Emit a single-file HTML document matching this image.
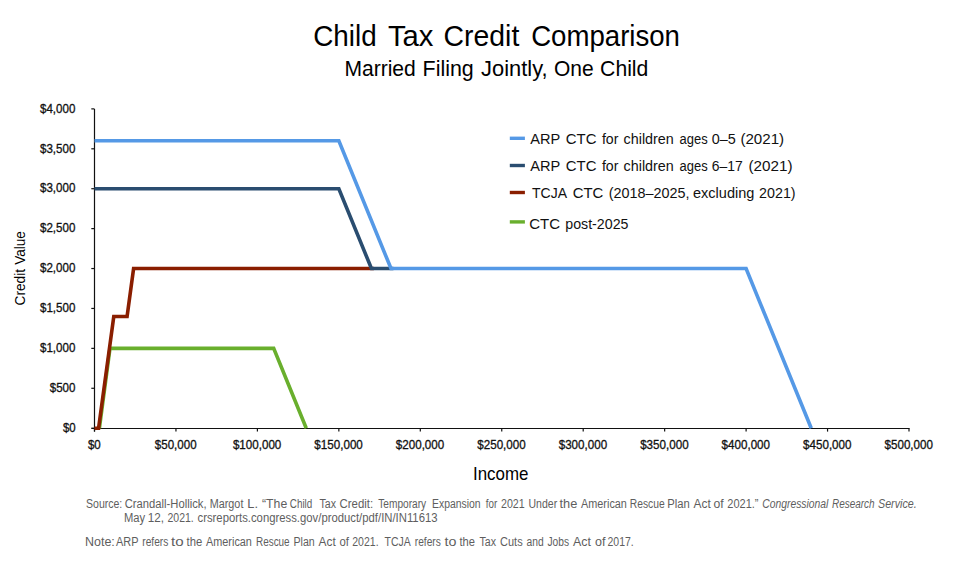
<!DOCTYPE html><html><head><meta charset="utf-8"><style>html,body{margin:0;padding:0;background:#fff;width:960px;height:562px;overflow:hidden}svg{display:block}text{font-family:"Liberation Sans",sans-serif}</style></head><body>
<svg width="960" height="562" viewBox="0 0 960 562">
<rect width="960" height="562" fill="#fff"/>
<g stroke="#111" stroke-width="1.2" fill="none">
<line x1="94.5" y1="108.9" x2="94.5" y2="431.6"/>
<line x1="91.5" y1="428.5" x2="909.6" y2="428.5"/>
<line x1="91.3" y1="428.20" x2="94.5" y2="428.20"/>
<line x1="91.3" y1="388.28" x2="94.5" y2="388.28"/>
<line x1="91.3" y1="348.37" x2="94.5" y2="348.37"/>
<line x1="91.3" y1="308.45" x2="94.5" y2="308.45"/>
<line x1="91.3" y1="268.54" x2="94.5" y2="268.54"/>
<line x1="91.3" y1="228.62" x2="94.5" y2="228.62"/>
<line x1="91.3" y1="188.71" x2="94.5" y2="188.71"/>
<line x1="91.3" y1="148.80" x2="94.5" y2="148.80"/>
<line x1="91.3" y1="108.88" x2="94.5" y2="108.88"/>
<line x1="94.50" y1="428.5" x2="94.50" y2="431.6"/>
<line x1="175.95" y1="428.5" x2="175.95" y2="431.6"/>
<line x1="257.40" y1="428.5" x2="257.40" y2="431.6"/>
<line x1="338.85" y1="428.5" x2="338.85" y2="431.6"/>
<line x1="420.30" y1="428.5" x2="420.30" y2="431.6"/>
<line x1="501.75" y1="428.5" x2="501.75" y2="431.6"/>
<line x1="583.20" y1="428.5" x2="583.20" y2="431.6"/>
<line x1="664.65" y1="428.5" x2="664.65" y2="431.6"/>
<line x1="746.10" y1="428.5" x2="746.10" y2="431.6"/>
<line x1="827.55" y1="428.5" x2="827.55" y2="431.6"/>
<line x1="909.00" y1="428.5" x2="909.00" y2="431.6"/>
</g>
<g fill="none" stroke-width="3.6" stroke-linejoin="miter" stroke-linecap="butt">
<polyline points="99.39,428.20 109.98,348.37 273.69,348.37 306.27,428.20" stroke="#69AF2D"/>
<polyline points="94.50,428.20 98.57,428.20 113.78,316.44 127.08,316.44 133.60,268.54 373.87,268.54" stroke="#8A1E00"/>
<polyline points="94.50,188.71 338.85,188.71 371.43,268.54 393.42,268.54" stroke="#2A4D70"/>
<polyline points="94.50,140.81 338.85,140.81 390.98,268.54 746.10,268.54 811.26,428.20" stroke="#5599E6"/>
</g>
<line x1="509.8" y1="138.3" x2="524.9" y2="138.3" stroke="#5599E6" stroke-width="3.4"/>
<line x1="509.8" y1="165.5" x2="524.9" y2="165.5" stroke="#2A4D70" stroke-width="3.4"/>
<line x1="509.8" y1="192.5" x2="524.9" y2="192.5" stroke="#8A1E00" stroke-width="3.4"/>
<line x1="509.8" y1="221.9" x2="524.9" y2="221.9" stroke="#69AF2D" stroke-width="3.4"/>
<text x="313.20" y="45.7" font-size="29.5" fill="#000" textLength="63.44" lengthAdjust="spacingAndGlyphs">Child</text>
<text x="387.90" y="45.7" font-size="29.5" fill="#000" textLength="45.49" lengthAdjust="spacingAndGlyphs">Tax</text>
<text x="443.60" y="45.7" font-size="29.5" fill="#000" textLength="75.73" lengthAdjust="spacingAndGlyphs">Credit</text>
<text x="531.20" y="45.7" font-size="29.5" fill="#000" textLength="148.79" lengthAdjust="spacingAndGlyphs">Comparison</text>
<text x="344.40" y="75.6" font-size="21.4" fill="#000" textLength="71.36" lengthAdjust="spacingAndGlyphs">Married</text>
<text x="422.60" y="75.6" font-size="21.4" fill="#000" textLength="51.17" lengthAdjust="spacingAndGlyphs">Filing</text>
<text x="481.10" y="75.6" font-size="21.4" fill="#000" textLength="66.49" lengthAdjust="spacingAndGlyphs">Jointly,</text>
<text x="554.00" y="75.6" font-size="21.4" fill="#000" textLength="39.70" lengthAdjust="spacingAndGlyphs">One</text>
<text x="600.10" y="75.6" font-size="21.4" fill="#000" textLength="48.26" lengthAdjust="spacingAndGlyphs">Child</text>
<text x="530.30" y="144.0" font-size="15.5" fill="#111" textLength="29.97" lengthAdjust="spacingAndGlyphs">ARP</text>
<text x="565.80" y="144.0" font-size="15.5" fill="#111" textLength="30.65" lengthAdjust="spacingAndGlyphs">CTC</text>
<text x="601.90" y="144.0" font-size="15.5" fill="#111" textLength="16.51" lengthAdjust="spacingAndGlyphs">for</text>
<text x="623.60" y="144.0" font-size="15.5" fill="#111" textLength="50.19" lengthAdjust="spacingAndGlyphs">children</text>
<text x="679.50" y="144.0" font-size="15.5" fill="#111" textLength="28.15" lengthAdjust="spacingAndGlyphs">ages</text>
<text x="711.80" y="144.0" font-size="15.5" fill="#111" textLength="24.06" lengthAdjust="spacingAndGlyphs">0–5</text>
<text x="740.40" y="144.0" font-size="15.5" fill="#111" textLength="43.73" lengthAdjust="spacingAndGlyphs">(2021)</text>
<text x="530.30" y="171.0" font-size="15.5" fill="#111" textLength="29.97" lengthAdjust="spacingAndGlyphs">ARP</text>
<text x="565.80" y="171.0" font-size="15.5" fill="#111" textLength="30.65" lengthAdjust="spacingAndGlyphs">CTC</text>
<text x="601.90" y="171.0" font-size="15.5" fill="#111" textLength="16.51" lengthAdjust="spacingAndGlyphs">for</text>
<text x="623.60" y="171.0" font-size="15.5" fill="#111" textLength="50.19" lengthAdjust="spacingAndGlyphs">children</text>
<text x="679.50" y="171.0" font-size="15.5" fill="#111" textLength="28.15" lengthAdjust="spacingAndGlyphs">ages</text>
<text x="711.80" y="171.0" font-size="15.5" fill="#111" textLength="31.01" lengthAdjust="spacingAndGlyphs">6–17</text>
<text x="748.40" y="171.0" font-size="15.5" fill="#111" textLength="44.07" lengthAdjust="spacingAndGlyphs">(2021)</text>
<text x="532.00" y="198.4" font-size="15.5" fill="#111" textLength="35.00" lengthAdjust="spacingAndGlyphs">TCJA</text>
<text x="572.70" y="198.4" font-size="15.5" fill="#111" textLength="30.62" lengthAdjust="spacingAndGlyphs">CTC</text>
<text x="608.80" y="198.4" font-size="15.5" fill="#111" textLength="80.77" lengthAdjust="spacingAndGlyphs">(2018–2025,</text>
<text x="693.00" y="198.4" font-size="15.5" fill="#111" textLength="61.34" lengthAdjust="spacingAndGlyphs">excluding</text>
<text x="759.10" y="198.4" font-size="15.5" fill="#111" textLength="36.47" lengthAdjust="spacingAndGlyphs">2021)</text>
<text x="529.25" y="228.6" font-size="15.5" fill="#111" textLength="30.76" lengthAdjust="spacingAndGlyphs">CTC</text>
<text x="565.25" y="228.6" font-size="15.5" fill="#111" textLength="63.19" lengthAdjust="spacingAndGlyphs">post-2025</text>
<text x="473.00" y="479.7" font-size="19" fill="#000" textLength="55.42" lengthAdjust="spacingAndGlyphs">Income</text>
<text transform="translate(24.6,264.80) rotate(-90)" x="0" y="0" font-size="14.5" fill="#000" textLength="33.73" lengthAdjust="spacingAndGlyphs">Value</text>
<text transform="translate(24.6,305.50) rotate(-90)" x="0" y="0" font-size="14.5" fill="#000" textLength="36.54" lengthAdjust="spacingAndGlyphs">Credit</text>
<text x="86.00" y="507.8" font-size="12" fill="#5e5e5e" textLength="36.30" lengthAdjust="spacingAndGlyphs">Source:</text>
<text x="124.75" y="507.8" font-size="12" fill="#5e5e5e" textLength="81.84" lengthAdjust="spacingAndGlyphs">Crandall-Hollick,</text>
<text x="209.75" y="507.8" font-size="12" fill="#5e5e5e" textLength="33.64" lengthAdjust="spacingAndGlyphs">Margot</text>
<text x="247.25" y="507.8" font-size="12" fill="#5e5e5e" textLength="10.70" lengthAdjust="spacingAndGlyphs">L.</text>
<text x="262.00" y="507.8" font-size="12" fill="#5e5e5e" textLength="25.21" lengthAdjust="spacingAndGlyphs">“The</text>
<text x="289.75" y="507.8" font-size="12" fill="#5e5e5e" textLength="22.52" lengthAdjust="spacingAndGlyphs">Child</text>
<text x="319.50" y="507.8" font-size="12" fill="#5e5e5e" textLength="16.52" lengthAdjust="spacingAndGlyphs">Tax</text>
<text x="339.50" y="507.8" font-size="12" fill="#5e5e5e" textLength="33.63" lengthAdjust="spacingAndGlyphs">Credit:</text>
<text x="378.25" y="507.8" font-size="12" fill="#5e5e5e" textLength="47.89" lengthAdjust="spacingAndGlyphs">Temporary</text>
<text x="432.00" y="507.8" font-size="12" fill="#5e5e5e" textLength="48.62" lengthAdjust="spacingAndGlyphs">Expansion</text>
<text x="485.75" y="507.8" font-size="12" fill="#5e5e5e" textLength="11.45" lengthAdjust="spacingAndGlyphs">for</text>
<text x="501.00" y="507.8" font-size="12" fill="#5e5e5e" textLength="23.75" lengthAdjust="spacingAndGlyphs">2021</text>
<text x="528.50" y="507.8" font-size="12" fill="#5e5e5e" textLength="28.63" lengthAdjust="spacingAndGlyphs">Under</text>
<text x="559.50" y="507.8" font-size="12" fill="#5e5e5e" textLength="17.79" lengthAdjust="spacingAndGlyphs">the</text>
<text x="581.00" y="507.8" font-size="12" fill="#5e5e5e" textLength="45.90" lengthAdjust="spacingAndGlyphs">American</text>
<text x="629.75" y="507.8" font-size="12" fill="#5e5e5e" textLength="34.92" lengthAdjust="spacingAndGlyphs">Rescue</text>
<text x="667.25" y="507.8" font-size="12" fill="#5e5e5e" textLength="22.53" lengthAdjust="spacingAndGlyphs">Plan</text>
<text x="693.50" y="507.8" font-size="12" fill="#5e5e5e" textLength="17.19" lengthAdjust="spacingAndGlyphs">Act</text>
<text x="713.50" y="507.8" font-size="12" fill="#5e5e5e" textLength="10.18" lengthAdjust="spacingAndGlyphs">of</text>
<text x="727.25" y="507.8" font-size="12" fill="#5e5e5e" textLength="31.24" lengthAdjust="spacingAndGlyphs">2021.”</text>
<text x="762.25" y="507.8" font-size="12" fill="#5e5e5e" font-style="italic" textLength="66.11" lengthAdjust="spacingAndGlyphs">Congressional</text>
<text x="832.00" y="507.8" font-size="12" fill="#5e5e5e" font-style="italic" textLength="42.65" lengthAdjust="spacingAndGlyphs">Research</text>
<text x="878.00" y="507.8" font-size="12" fill="#5e5e5e" font-style="italic" textLength="38.70" lengthAdjust="spacingAndGlyphs">Service.</text>
<text x="124.00" y="521.6" font-size="12" fill="#5e5e5e" textLength="21.15" lengthAdjust="spacingAndGlyphs">May</text>
<text x="147.75" y="521.6" font-size="12" fill="#5e5e5e" textLength="16.26" lengthAdjust="spacingAndGlyphs">12,</text>
<text x="167.50" y="521.6" font-size="12" fill="#5e5e5e" textLength="26.29" lengthAdjust="spacingAndGlyphs">2021.</text>
<text x="197.50" y="521.6" font-size="12" fill="#5e5e5e" textLength="240.03" lengthAdjust="spacingAndGlyphs">crsreports.congress.gov/product/pdf/IN/IN11613</text>
<text x="85.00" y="546.4" font-size="12" fill="#5e5e5e" textLength="29.77" lengthAdjust="spacingAndGlyphs">Note:</text>
<text x="116.00" y="546.4" font-size="12" fill="#5e5e5e" textLength="22.50" lengthAdjust="spacingAndGlyphs">ARP</text>
<text x="142.25" y="546.4" font-size="12" fill="#5e5e5e" textLength="26.04" lengthAdjust="spacingAndGlyphs">refers</text>
<text x="171.00" y="546.4" font-size="12" fill="#5e5e5e" textLength="12.60" lengthAdjust="spacingAndGlyphs">to</text>
<text x="186.50" y="546.4" font-size="12" fill="#5e5e5e" textLength="15.69" lengthAdjust="spacingAndGlyphs">the</text>
<text x="206.00" y="546.4" font-size="12" fill="#5e5e5e" textLength="45.90" lengthAdjust="spacingAndGlyphs">American</text>
<text x="256.00" y="546.4" font-size="12" fill="#5e5e5e" textLength="33.64" lengthAdjust="spacingAndGlyphs">Rescue</text>
<text x="293.50" y="546.4" font-size="12" fill="#5e5e5e" textLength="21.27" lengthAdjust="spacingAndGlyphs">Plan</text>
<text x="318.50" y="546.4" font-size="12" fill="#5e5e5e" textLength="17.19" lengthAdjust="spacingAndGlyphs">Act</text>
<text x="339.50" y="546.4" font-size="12" fill="#5e5e5e" textLength="9.48" lengthAdjust="spacingAndGlyphs">of</text>
<text x="352.25" y="546.4" font-size="12" fill="#5e5e5e" textLength="26.30" lengthAdjust="spacingAndGlyphs">2021.</text>
<text x="384.50" y="546.4" font-size="12" fill="#5e5e5e" textLength="26.16" lengthAdjust="spacingAndGlyphs">TCJA</text>
<text x="414.75" y="546.4" font-size="12" fill="#5e5e5e" textLength="26.04" lengthAdjust="spacingAndGlyphs">refers</text>
<text x="444.50" y="546.4" font-size="12" fill="#5e5e5e" textLength="11.89" lengthAdjust="spacingAndGlyphs">to</text>
<text x="459.50" y="546.4" font-size="12" fill="#5e5e5e" textLength="15.48" lengthAdjust="spacingAndGlyphs">the</text>
<text x="479.50" y="546.4" font-size="12" fill="#5e5e5e" textLength="16.52" lengthAdjust="spacingAndGlyphs">Tax</text>
<text x="500.00" y="546.4" font-size="12" fill="#5e5e5e" textLength="22.65" lengthAdjust="spacingAndGlyphs">Cuts</text>
<text x="526.50" y="546.4" font-size="12" fill="#5e5e5e" textLength="17.19" lengthAdjust="spacingAndGlyphs">and</text>
<text x="547.50" y="546.4" font-size="12" fill="#5e5e5e" textLength="21.58" lengthAdjust="spacingAndGlyphs">Jobs</text>
<text x="573.00" y="546.4" font-size="12" fill="#5e5e5e" textLength="17.90" lengthAdjust="spacingAndGlyphs">Act</text>
<text x="595.00" y="546.4" font-size="12" fill="#5e5e5e" textLength="10.47" lengthAdjust="spacingAndGlyphs">of</text>
<text x="607.50" y="546.4" font-size="12" fill="#5e5e5e" textLength="26.22" lengthAdjust="spacingAndGlyphs">2017.</text>
<text x="62.90" y="431.9" font-size="12" fill="#111" stroke="#111" stroke-width="0.3" textLength="12.74" lengthAdjust="spacingAndGlyphs">$0</text>
<text x="49.70" y="391.98" font-size="12" fill="#111" stroke="#111" stroke-width="0.3" textLength="25.77" lengthAdjust="spacingAndGlyphs">$500</text>
<text x="40.00" y="352.07" font-size="12" fill="#111" stroke="#111" stroke-width="0.3" textLength="35.36" lengthAdjust="spacingAndGlyphs">$1,000</text>
<text x="40.00" y="312.15" font-size="12" fill="#111" stroke="#111" stroke-width="0.3" textLength="35.36" lengthAdjust="spacingAndGlyphs">$1,500</text>
<text x="40.00" y="272.24" font-size="12" fill="#111" stroke="#111" stroke-width="0.3" textLength="35.36" lengthAdjust="spacingAndGlyphs">$2,000</text>
<text x="40.00" y="232.32" font-size="12" fill="#111" stroke="#111" stroke-width="0.3" textLength="35.36" lengthAdjust="spacingAndGlyphs">$2,500</text>
<text x="40.00" y="192.41" font-size="12" fill="#111" stroke="#111" stroke-width="0.3" textLength="35.36" lengthAdjust="spacingAndGlyphs">$3,000</text>
<text x="40.00" y="152.5" font-size="12" fill="#111" stroke="#111" stroke-width="0.3" textLength="35.36" lengthAdjust="spacingAndGlyphs">$3,500</text>
<text x="40.00" y="112.58" font-size="12" fill="#111" stroke="#111" stroke-width="0.3" textLength="35.36" lengthAdjust="spacingAndGlyphs">$4,000</text>
<text x="87.90" y="448.8" font-size="12" fill="#111" stroke="#111" stroke-width="0.3" textLength="12.87" lengthAdjust="spacingAndGlyphs">$0</text>
<text x="154.80" y="448.8" font-size="12" fill="#111" stroke="#111" stroke-width="0.3" textLength="41.80" lengthAdjust="spacingAndGlyphs">$50,000</text>
<text x="232.90" y="448.8" font-size="12" fill="#111" stroke="#111" stroke-width="0.3" textLength="48.45" lengthAdjust="spacingAndGlyphs">$100,000</text>
<text x="314.35" y="448.8" font-size="12" fill="#111" stroke="#111" stroke-width="0.3" textLength="48.49" lengthAdjust="spacingAndGlyphs">$150,000</text>
<text x="395.80" y="448.8" font-size="12" fill="#111" stroke="#111" stroke-width="0.3" textLength="48.47" lengthAdjust="spacingAndGlyphs">$200,000</text>
<text x="477.25" y="448.8" font-size="12" fill="#111" stroke="#111" stroke-width="0.3" textLength="48.49" lengthAdjust="spacingAndGlyphs">$250,000</text>
<text x="558.70" y="448.8" font-size="12" fill="#111" stroke="#111" stroke-width="0.3" textLength="48.45" lengthAdjust="spacingAndGlyphs">$300,000</text>
<text x="640.15" y="448.8" font-size="12" fill="#111" stroke="#111" stroke-width="0.3" textLength="48.51" lengthAdjust="spacingAndGlyphs">$350,000</text>
<text x="721.60" y="448.8" font-size="12" fill="#111" stroke="#111" stroke-width="0.3" textLength="48.45" lengthAdjust="spacingAndGlyphs">$400,000</text>
<text x="803.05" y="448.8" font-size="12" fill="#111" stroke="#111" stroke-width="0.3" textLength="48.47" lengthAdjust="spacingAndGlyphs">$450,000</text>
<text x="884.50" y="448.8" font-size="12" fill="#111" stroke="#111" stroke-width="0.3" textLength="48.47" lengthAdjust="spacingAndGlyphs">$500,000</text>
</svg></body></html>
